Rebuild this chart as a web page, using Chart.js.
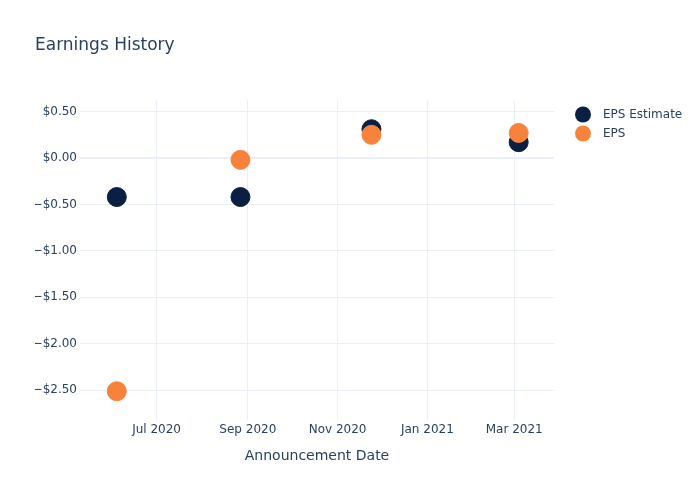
<!DOCTYPE html>
<html>
<head>
<meta charset="utf-8">
<script src="https://cdn.jsdelivr.net/npm/chart.js@4/dist/chart.umd.min.js"></script>
<style>
  html, body { margin: 0; padding: 0; background: #fff; }
  #wrap { width: 700px; height: 500px; }
</style>
</head>
<body>
<div id="wrap"><canvas id="c" width="700" height="500"></canvas></div>
<script>
// Earnings history - EPS estimate vs reported EPS per announcement date
const announcementDates = ['2020-06-04', '2020-08-27', '2020-11-24', '2021-03-04'];
const epsEstimate = [-0.42, -0.42, 0.31, 0.17];
const epsActual = [-2.51, -0.02, 0.25, 0.27];

const xTickDates = ['2020-07-01', '2020-09-01', '2020-11-01', '2021-01-01', '2021-03-01'];
const xTickLabels = ['Jul 2020', 'Sep 2020', 'Nov 2020', 'Jan 2021', 'Mar 2021'];
const xRange = ['2020-05-10', '2021-03-28'];

const yTickValues = [-2.5, -2, -1.5, -1, -0.5, 0, 0.5];
const yRange = [-2.82, 0.62];

const TEXT = '#2a3f5f';
const GRID = '#ebf0f8';
const NAVY = '#0b1f42';
const ORANGE = '#f7823b';
const FONT = '"DejaVu Sans", Verdana, sans-serif';

const ts = s => Date.parse(s + 'T00:00:00Z');
const toPoints = vals => vals.map((y, i) => ({ x: ts(announcementDates[i]), y }));

const fmtUsd = v => (v < 0 ? '\u2212$' : '$') + Math.abs(v).toFixed(2);

// Plotly-style legend at the top right, drawn in dataset order
const sideLegend = {
  id: 'sideLegend',
  afterDraw(chart) {
    const ctx = chart.ctx;
    ctx.save();
    chart.data.datasets.forEach((ds, i) => {
      const y = 114.5 + i * 19;
      ctx.fillStyle = ds.backgroundColor;
      ctx.beginPath();
      ctx.arc(583, y, 8, 0, Math.PI * 2);
      ctx.fill();
      ctx.fillStyle = TEXT;
      ctx.font = '12px ' + FONT;
      ctx.textBaseline = 'middle';
      ctx.textAlign = 'left';
      ctx.fillText(ds.label, 603, y);
    });
    ctx.restore();
  }
};

new Chart(document.getElementById('c').getContext('2d'), {
  type: 'scatter',
  data: {
    datasets: [
      {
        label: 'EPS Estimate',
        data: toPoints(epsEstimate),
        backgroundColor: NAVY, borderColor: NAVY,
        pointRadius: 9.5, pointHoverRadius: 9.5, borderWidth: 1,
        order: 1
      },
      {
        label: 'EPS',
        data: toPoints(epsActual),
        backgroundColor: ORANGE, borderColor: ORANGE,
        pointRadius: 9.5, pointHoverRadius: 9.5, borderWidth: 1,
        order: 0
      }
    ]
  },
  plugins: [sideLegend],
  options: {
    responsive: false, animation: false,
    layout: { padding: { left: 35, right: 146, top: 0, bottom: 0 } },
    plugins: {
      legend: { display: false },
      tooltip: { enabled: false },
      title: {
        display: true, text: 'Earnings History', align: 'start', color: TEXT,
        font: { family: FONT, size: 17, weight: 'normal' },
        padding: { top: 35, bottom: 45 }
      }
    },
    scales: {
      x: {
        type: 'linear',
        min: ts(xRange[0]), max: ts(xRange[1]),
        afterBuildTicks: scale => { scale.ticks = xTickDates.map(d => ({ value: ts(d) })); },
        afterFit: scale => { scale.height = 80; },
        ticks: {
          color: TEXT, font: { family: FONT, size: 12 }, padding: 3, maxRotation: 0, autoSkip: false,
          callback: (v, i) => xTickLabels[i]
        },
        grid: { color: GRID, lineWidth: 1, drawTicks: false },
        border: { display: false },
        title: {
          display: true, text: 'Announcement Date', color: TEXT,
          font: { family: FONT, size: 14 }, padding: { top: 0, bottom: 35.6 }
        }
      },
      y: {
        min: yRange[0], max: yRange[1],
        afterBuildTicks: scale => { scale.ticks = yTickValues.map(v => ({ value: v })); },
        afterFit: scale => { scale.width = 45; },
        ticks: { color: TEXT, font: { family: FONT, size: 12 }, padding: 3, callback: v => fmtUsd(v) },
        grid: {
          color: GRID, drawTicks: false,
          lineWidth: c => (c.tick && c.tick.value === 0 ? 2 : 1)
        },
        border: { display: false }
      }
    }
  }
});
</script>
</body>
</html>
